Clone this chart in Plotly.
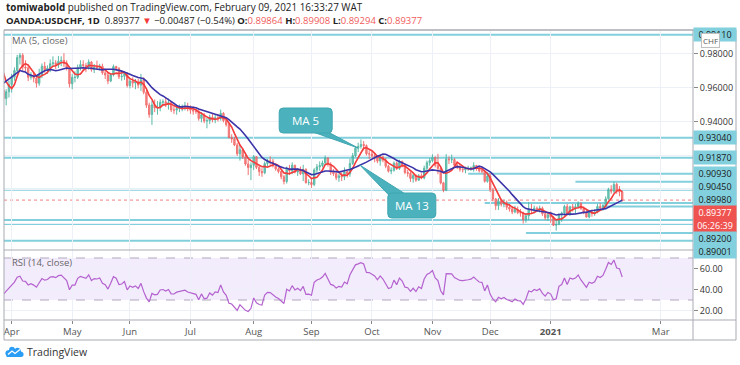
import numpy as np
import pandas as pd
import plotly.graph_objects as go

# ---------------- data (OANDA:USDCHF daily) ----------------
HOLIDAYS = ["2020-12-25", "2021-01-01"]
FIRST_OPEN = 0.9650

CLOSE = [
    # Mar 2020
    0.9610, 0.9555, 0.9597, 0.9495, 0.9383, 0.9330, 0.9392, 0.9410, 0.9470, 0.9520, 0.9465,
    0.9610, 0.9677, 0.9782, 0.9765, 0.9830, 0.9745, 0.9734, 0.9585, 0.9535, 0.9575, 0.9617,
    # Apr
    0.9660, 0.9700, 0.9776, 0.9790, 0.9720, 0.9715, 0.9660, 0.9675, 0.9655, 0.9625, 0.9675,
    0.9725, 0.9705, 0.9713, 0.9740, 0.9745, 0.9735, 0.9755, 0.9760, 0.9740, 0.9715, 0.9622,
    # May
    0.9660, 0.9660, 0.9718, 0.9735, 0.9730, 0.9720, 0.9750, 0.9705, 0.9720, 0.9717, 0.9725,
    0.9686, 0.9674, 0.9638, 0.9675, 0.9723, 0.9712, 0.9663, 0.9666, 0.9682, 0.9612,
    # Jun
    0.9638, 0.9626, 0.9635, 0.9614, 0.9645, 0.9572, 0.9496, 0.9441, 0.9498, 0.9480, 0.9483,
    0.9513, 0.9516, 0.9502, 0.9511, 0.9468, 0.9467, 0.9477, 0.9481, 0.9485, 0.9487, 0.9474,
    # Jul
    0.9467, 0.9462, 0.9458, 0.9418, 0.9440, 0.9403, 0.9405, 0.9425, 0.9410, 0.9422, 0.9418,
    0.9448, 0.9405, 0.9381, 0.9306, 0.9297, 0.9262, 0.9210, 0.9234, 0.9192, 0.9150, 0.9129, 0.9143,
    # Aug
    0.9193, 0.9130, 0.9106, 0.9098, 0.9153, 0.9169, 0.9166, 0.9139, 0.9121, 0.9106, 0.9075,
    0.9047, 0.9125, 0.9109, 0.9143, 0.9103, 0.9114, 0.9092, 0.9118, 0.9040, 0.9041,
    # Sep
    0.9029, 0.9115, 0.9133, 0.9141, 0.9156, 0.9185, 0.9147, 0.9101, 0.9093, 0.9069, 0.9080,
    0.9075, 0.9105, 0.9092, 0.9153, 0.9199, 0.9243, 0.9253, 0.9265, 0.9258, 0.9210, 0.9209,
    # Oct
    0.9197, 0.9190, 0.9167, 0.9191, 0.9173, 0.9137, 0.9108, 0.9113, 0.9155, 0.9124, 0.9165,
    0.9145, 0.9100, 0.9095, 0.9065, 0.9082, 0.9055, 0.9081, 0.9068, 0.9125, 0.9158, 0.9170,
    # Nov
    0.9188, 0.9143, 0.9124, 0.9039, 0.8995, 0.9178, 0.9175, 0.9176, 0.9143, 0.9132, 0.9118,
    0.9116, 0.9122, 0.9123, 0.9127, 0.9141, 0.9125, 0.9110, 0.9108, 0.9048, 0.9080,
    # Dec
    0.8998, 0.8944, 0.8905, 0.8932, 0.8913, 0.8920, 0.8896, 0.8885, 0.8868, 0.8882, 0.8864,
    0.8862, 0.8822, 0.8845, 0.8885, 0.8878, 0.8890, 0.8882, 0.8890, 0.8857, 0.8834, 0.8850,
    # Jan 2021
    0.8838, 0.8790, 0.8794, 0.8852, 0.8862, 0.8900, 0.8857, 0.8899, 0.8892, 0.8898,
    0.8917, 0.8888, 0.8866, 0.8838, 0.8867, 0.8860, 0.8868, 0.8900, 0.8893, 0.8905,
    # Feb
    0.8945, 0.9000, 0.8990, 0.9030, 0.8990, 0.89864, 0.89377,
]
HIGH = [
    0.9650, 0.9640, 0.9618, 0.9607, 0.9500, 0.9390, 0.9443, 0.9443, 0.9516, 0.9567, 0.9535,
    0.9626, 0.9711, 0.9902, 0.9856, 0.9870, 0.9846, 0.9801, 0.9735, 0.9627, 0.9590, 0.9641,
    0.9680, 0.9718, 0.9792, 0.9803, 0.9802, 0.9760, 0.9735, 0.9690, 0.9690, 0.9672, 0.9710,
    0.9741, 0.9750, 0.9730, 0.9765, 0.9783, 0.9761, 0.9785, 0.9784, 0.9802, 0.9760, 0.9725,
    0.9680, 0.9695, 0.9735, 0.9760, 0.9760, 0.9745, 0.9765, 0.9755, 0.9738, 0.9758, 0.9739,
    0.9740, 0.9708, 0.9688, 0.9683, 0.9735, 0.9728, 0.9720, 0.9700, 0.9695, 0.9690,
    0.9650, 0.9660, 0.9650, 0.9652, 0.9680, 0.9660, 0.9585, 0.9510, 0.9520, 0.9530, 0.9520,
    0.9530, 0.9530, 0.9540, 0.9535, 0.9520, 0.9490, 0.9497, 0.9500, 0.9500, 0.9515, 0.9510,
    0.9495, 0.9490, 0.9470, 0.9470, 0.9455, 0.9450, 0.9420, 0.9440, 0.9445, 0.9440, 0.9445,
    0.9470, 0.9455, 0.9420, 0.9390, 0.9325, 0.9310, 0.9275, 0.9262, 0.9245, 0.9205, 0.9175, 0.9160,
    0.9203, 0.9195, 0.9145, 0.9125, 0.9165, 0.9180, 0.9195, 0.9180, 0.9150, 0.9130, 0.9110,
    0.9085, 0.9135, 0.9145, 0.9160, 0.9145, 0.9125, 0.9135, 0.9145, 0.9125, 0.9060,
    0.9065, 0.9125, 0.9150, 0.9165, 0.9170, 0.9200, 0.9190, 0.9160, 0.9120, 0.9105, 0.9095,
    0.9100, 0.9130, 0.9115, 0.9180, 0.9215, 0.9255, 0.9275, 0.9295, 0.9285, 0.9265, 0.9230,
    0.9225, 0.9215, 0.9200, 0.9200, 0.9200, 0.9185, 0.9145, 0.9130, 0.9165, 0.9165, 0.9175,
    0.9170, 0.9150, 0.9115, 0.9105, 0.9095, 0.9090, 0.9090, 0.9095, 0.9140, 0.9170, 0.9185,
    0.9207, 0.9195, 0.9210, 0.9130, 0.9045, 0.9208, 0.9195, 0.9205, 0.9185, 0.9155, 0.9150,
    0.9135, 0.9135, 0.9140, 0.9135, 0.9160, 0.9145, 0.9135, 0.9120, 0.9110, 0.9100,
    0.9095, 0.9010, 0.8950, 0.8950, 0.8945, 0.8940, 0.8935, 0.8915, 0.8900, 0.8905, 0.8900,
    0.8885, 0.8870, 0.8860, 0.8925, 0.8915, 0.8905, 0.8900, 0.8905, 0.8900, 0.8865, 0.8865,
    0.8870, 0.8845, 0.8820, 0.8860, 0.8870, 0.8910, 0.8915, 0.8905, 0.8915, 0.8915,
    0.8930, 0.8925, 0.8900, 0.8880, 0.8880, 0.8880, 0.8885, 0.8915, 0.8920, 0.8915,
    0.8960, 0.9010, 0.9025, 0.9045, 0.9040, 0.9020, 0.89908,
]
LOW = [
    0.9560, 0.9515, 0.9533, 0.9480, 0.9340, 0.9182, 0.9305, 0.9347, 0.9368, 0.9424, 0.9390,
    0.9445, 0.9565, 0.9660, 0.9720, 0.9715, 0.9720, 0.9663, 0.9560, 0.9505, 0.9495, 0.9541,
    0.9570, 0.9640, 0.9690, 0.9735, 0.9700, 0.9697, 0.9638, 0.9646, 0.9630, 0.9600, 0.9610,
    0.9655, 0.9687, 0.9680, 0.9690, 0.9725, 0.9709, 0.9715, 0.9725, 0.9720, 0.9700, 0.9600,
    0.9590, 0.9630, 0.9650, 0.9700, 0.9705, 0.9690, 0.9705, 0.9693, 0.9685, 0.9703, 0.9700,
    0.9675, 0.9650, 0.9620, 0.9631, 0.9665, 0.9700, 0.9650, 0.9640, 0.9645, 0.9600,
    0.9595, 0.9600, 0.9590, 0.9595, 0.9580, 0.9560, 0.9480, 0.9422, 0.9380, 0.9455, 0.9440,
    0.9460, 0.9490, 0.9485, 0.9470, 0.9455, 0.9445, 0.9440, 0.9455, 0.9460, 0.9465, 0.9460,
    0.9445, 0.9440, 0.9445, 0.9405, 0.9395, 0.9390, 0.9360, 0.9385, 0.9395, 0.9390, 0.9400,
    0.9405, 0.9395, 0.9370, 0.9300, 0.9275, 0.9255, 0.9198, 0.9170, 0.9180, 0.9140, 0.9085, 0.9055,
    0.9115, 0.9120, 0.9080, 0.9075, 0.9090, 0.9135, 0.9145, 0.9130, 0.9110, 0.9095, 0.9060,
    0.9030, 0.9035, 0.9085, 0.9090, 0.9095, 0.9080, 0.9085, 0.9050, 0.9035, 0.9025,
    0.9010, 0.9020, 0.9090, 0.9110, 0.9130, 0.9145, 0.9135, 0.9085, 0.9080, 0.9055, 0.9045,
    0.9050, 0.9055, 0.9070, 0.9075, 0.9145, 0.9190, 0.9220, 0.9240, 0.9230, 0.9200, 0.9180,
    0.9180, 0.9160, 0.9155, 0.9140, 0.9160, 0.9125, 0.9100, 0.9090, 0.9105, 0.9115, 0.9115,
    0.9130, 0.9090, 0.9075, 0.9045, 0.9040, 0.9045, 0.9050, 0.9060, 0.9060, 0.9115, 0.9140,
    0.9160, 0.9130, 0.9090, 0.9030, 0.8984, 0.8990, 0.9150, 0.9155, 0.9130, 0.9120, 0.9105,
    0.9100, 0.9095, 0.9110, 0.9110, 0.9105, 0.9110, 0.9100, 0.9095, 0.9040, 0.9040,
    0.8985, 0.8930, 0.8880, 0.8880, 0.8900, 0.8895, 0.8880, 0.8870, 0.8855, 0.8860, 0.8855,
    0.8840, 0.8800, 0.8805, 0.8820, 0.8860, 0.8860, 0.8870, 0.8865, 0.8845, 0.8820, 0.8815,
    0.8805, 0.8785, 0.8758, 0.8790, 0.8810, 0.8845, 0.8850, 0.8845, 0.8870, 0.8855,
    0.8890, 0.8880, 0.8855, 0.8835, 0.8830, 0.8840, 0.8845, 0.8860, 0.8880, 0.8875,
    0.8895, 0.8940, 0.8975, 0.8980, 0.8975, 0.8960, 0.89294,
]

LEVELS = [0.9911, 0.9304, 0.9187, 0.9093, 0.9045, 0.8998, 0.8920, 0.89001, 0.8821, 0.8797, 0.8744, 0.8699]
LEVEL_STARTS = [None, None, None, "2020-11-19", "2021-01-15", None, "2020-11-27", "2021-01-29",
                None, None, "2020-12-18", None]
LEVEL_LABELED = [True, True, True, True, True, True, True, True, False, False, False, False]
LAST_PRICE = 0.89377
COUNTDOWN = "06:26:39"

MONTH_TICKS = ["2020-04-01", "2020-05-01", "2020-06-01", "2020-07-01", "2020-08-03", "2020-09-01",
               "2020-10-01", "2020-11-02", "2020-12-01", "2021-01-04", "2021-03-01"]
MONTH_LABELS = ["Apr", "May", "Jun", "Jul", "Aug", "Sep", "Oct", "Nov", "Dec", "<b>2021</b>", "Mar"]
PRICE_TICKS = [0.88, 0.90, 0.92, 0.94, 0.96, 0.98]
PRICE_TICKTEXT = ["", "", "", "0.94000", "0.96000", "0.98000"]
RSI_TICKS = [20, 40, 60]

MA5_TIP = ("2020-09-24", 0.92441)
MA13_TIP = ("2020-09-24 14:00", 0.91441)

# ---------------- derived series ----------------
dates = [d for d in pd.bdate_range("2020-03-02", "2021-02-09") if d.strftime("%Y-%m-%d") not in HOLIDAYS]
assert len(dates) == len(CLOSE) == len(HIGH) == len(LOW), (len(dates), len(CLOSE), len(HIGH), len(LOW))
close = pd.Series(CLOSE, index=dates)
opens = [FIRST_OPEN] + CLOSE[:-1]          # FX daily bar opens at prior close
highs = [max(h, o, c) for h, o, c in zip(HIGH, opens, CLOSE)]
lows = [min(l, o, c) for l, o, c in zip(LOW, opens, CLOSE)]
ma5 = close.rolling(5).mean()
ma13 = close.rolling(13).mean()
delta = close.diff()
gain = delta.clip(lower=0).ewm(alpha=1 / 14, adjust=False).mean()
loss = (-delta.clip(upper=0)).ewm(alpha=1 / 14, adjust=False).mean()
rsi = 100 - 100 / (1 + gain / loss)

# ---------------- geometry ----------------
W, H = 740, 365
PL, PR, PT, PB = 4, 693, 30, 320
SEP = 250
PRICE_RANGE = [0.864412, 0.993824]
RSI_RANGE = [10.95, 77.62]
X_RANGE = ["2020-03-27 04:48", "2021-03-16 18:00"]
split = (PB - SEP) / (PB - PT)


def px(x):
    return (x - PL) / (PR - PL)


def py(y):
    return (PB - y) / (PB - PT)


def price_px(v):
    return PT + (PRICE_RANGE[1] - v) / (PRICE_RANGE[1] - PRICE_RANGE[0]) * (SEP - PT)


FONT = "Open Sans"
GRID = "#edf1f7"
FRAME = "#a8abb3"
CYAN = "#82d0dd"
RED = "#ef5350"

fig = go.Figure()
fig.add_trace(go.Candlestick(
    x=dates, open=opens, high=highs, low=lows, close=CLOSE,
    increasing=dict(line=dict(color="#3fae9a", width=1), fillcolor="#5dbfae"),
    decreasing=dict(line=dict(color="#f05a5a", width=1), fillcolor="#f47575"),
    opacity=0.85, whiskerwidth=0, xaxis="x", yaxis="y", showlegend=False, hoverinfo="skip"))
fig.add_trace(go.Scatter(x=dates, y=ma5, mode="lines", line=dict(color="#f23b3b", width=1.6),
                         xaxis="x", yaxis="y", showlegend=False, hoverinfo="skip"))
fig.add_trace(go.Scatter(x=dates, y=ma13, mode="lines", line=dict(color="#3b34a8", width=1.6),
                         xaxis="x", yaxis="y", showlegend=False, hoverinfo="skip"))
fig.add_trace(go.Scatter(x=dates, y=rsi, mode="lines", line=dict(color="#b462cf", width=1.2),
                         xaxis="x2", yaxis="y2", showlegend=False, hoverinfo="skip"))

shapes = []
# RSI band and bounds
shapes.append(dict(type="rect", xref="x2 domain", yref="y2", x0=0, x1=1, y0=30, y1=70,
                   fillcolor="rgba(160,100,230,0.12)", line=dict(width=0), layer="below"))
for lvl in (30, 70):
    shapes.append(dict(type="line", xref="x2 domain", yref="y2", x0=0, x1=1, y0=lvl, y1=lvl,
                       line=dict(color="#b3a7bf", width=1, dash="dash"), layer="below"))
# horizontal levels
for v, s in zip(LEVELS, LEVEL_STARTS):
    shapes.append(dict(type="line", xref="x", yref="y", x0=s if s else X_RANGE[0], x1=X_RANGE[1],
                       y0=v, y1=v, line=dict(color=CYAN, width=2), layer="below"))
# last price dotted line
shapes.append(dict(type="line", xref="x domain", yref="y", x0=0, x1=1, y0=LAST_PRICE, y1=LAST_PRICE,
                   line=dict(color="#f08080", width=1, dash="dot"), layer="below"))


# callout boxes (pixel-sized shapes anchored to the MA lines)
def rrect(x0, x1, y0, y1, r=4):
    return (f"M{x0 + r},{y0} L{x1 - r},{y0} Q{x1},{y0} {x1},{y0 + r} L{x1},{y1 - r} Q{x1},{y1} {x1 - r},{y1} "
            f"L{x0 + r},{y1} Q{x0},{y1} {x0},{y1 - r} L{x0},{y0 + r} Q{x0},{y0} {x0 + r},{y0} Z")


TEAL = "#4bb2bd"
for tip, box, tail in [
    (MA5_TIP, (-79, -26, 15, 40), "M0,0 L-48,17 L-32,17 Z"),
    (MA13_TIP, (28, 76, -53, -28), "M0,0 L29,-30 L47,-30 Z"),
]:
    for path in (tail, rrect(*box)):
        shapes.append(dict(type="path", xref="x", yref="y", xsizemode="pixel", ysizemode="pixel",
                           xanchor=tip[0], yanchor=tip[1], path=path, fillcolor=TEAL,
                           line=dict(color="#3fa6b1", width=1), layer="above"))


# frame lines
def hline(y, x0=PL, x1=736, color=FRAME, w=1):
    shapes.append(dict(type="line", xref="paper", yref="paper", x0=px(x0), x1=px(x1), y0=py(y), y1=py(y),
                       line=dict(color=color, width=w), layer="above"))


def vline(x, y0=PT, y1=340, color=FRAME, w=1):
    shapes.append(dict(type="line", xref="paper", yref="paper", x0=px(x), x1=px(x), y0=py(y0), y1=py(y1),
                       line=dict(color=color, width=w), layer="above"))


hline(PT, w=1.5)
hline(SEP)
hline(PB)
hline(340)
vline(PL)
vline(PR)
vline(736)

# TradingView cloud logo
shapes.append(dict(type="path", xref="paper", yref="paper", xsizemode="pixel", ysizemode="pixel",
                   xanchor=px(5), yanchor=py(357),
                   path="M2,0 L16,0 C19.5,0 19.5,5 16,5.5 C16,9 12,10.5 10,8 C9,11 4,11 4,7 C1,7 -0.5,4 1,2 C1.3,0.8 1.6,0 2,0 Z",
                   fillcolor="#2a9df4", line=dict(width=0), layer="above"))
shapes.append(dict(type="path", xref="paper", yref="paper", xsizemode="pixel", ysizemode="pixel",
                   xanchor=px(5), yanchor=py(357), path="M3,2.5 L7,6 L10,3.5 L15,7.5",
                   line=dict(color="white", width=1.3), layer="above"))

ann = []
# header
ann.append(dict(xref="paper", yref="paper", x=px(4), y=py(7.5), xanchor="left", yanchor="middle", showarrow=False,
                text="<b>tomiwabold</b> published on TradingView.com, February 09, 2021 16:33:27 WAT",
                font=dict(family=FONT, size=9.9, color="#222")))
red_t = "<span style='color:#f05b5b'>{}</span>"
ann.append(dict(xref="paper", yref="paper", x=px(4), y=py(20.5), xanchor="left", yanchor="middle", showarrow=False,
                text=("<b>OANDA:USDCHF, 1D</b>  0.89377 <span style='color:#f23b3b'>▼</span> −0.00487 (−0.54%) "
                      "<b>O:</b>" + red_t.format("0.89864") + " <b>H:</b>" + red_t.format("0.89908") +
                      " <b>L:</b>" + red_t.format("0.89294") + " <b>C:</b>" + red_t.format("0.89377")),
                font=dict(family=FONT, size=9.5, color="#222")))
# pane legends
ann.append(dict(xref="paper", yref="paper", x=px(10), y=py(41), xanchor="left", yanchor="middle", showarrow=False,
                text="MA (5, close)", font=dict(family=FONT, size=9.5, color="#666")))
ann.append(dict(xref="paper", yref="paper", x=px(10), y=py(262), xanchor="left", yanchor="middle", showarrow=False,
                text="RSI (14, close)", font=dict(family=FONT, size=9.5, color="#666")))
# callout texts
for tip, txt, dx, dy in [(MA5_TIP, "MA 5", -52.5, 27.5), (MA13_TIP, "MA 13", 52, -40.5)]:
    ann.append(dict(xref="x", yref="y", x=tip[0], y=tip[1], xshift=dx, yshift=dy, showarrow=False,
                    text=txt, font=dict(family=FONT, size=11.5, color="white")))

# right-axis level labels with TradingView-style stacking
labels = []
for v, lab in zip(LEVELS, LEVEL_LABELED):
    if lab:
        labels.append((v, f"{v:.5f}", CYAN, "#1a1a1a"))
labels.append((LAST_PRICE, f"{LAST_PRICE:.5f}", RED, "white"))
labels.sort(key=lambda t: -t[0])
prev = -1e9
for v, txt, bg, fg in labels:
    true_y = price_px(v)
    disp = max(true_y, prev + 13)
    ann.append(dict(xref="paper", yref="y", x=px(PR), y=v, yshift=-(disp - true_y), xanchor="left",
                    yanchor="middle", showarrow=False, text=txt, bgcolor=bg, width=40, height=11,
                    borderpad=1, font=dict(family=FONT, size=9, color=fg)))
    prev = disp
    if v == LAST_PRICE:
        disp = prev + 13
        ann.append(dict(xref="paper", yref="y", x=px(PR), y=v, yshift=-(disp - true_y), xanchor="left",
                        yanchor="middle", showarrow=False, text=COUNTDOWN, bgcolor=RED, width=40, height=11,
                        borderpad=1, font=dict(family=FONT, size=9, color="white")))
        prev = disp
# CHF badge
ann.append(dict(xref="paper", yref="paper", x=px(701), y=py(41), xanchor="left", yanchor="middle",
                showarrow=False, text="CHF", bgcolor="white", bordercolor="#c0c0c0", borderwidth=1, borderpad=1,
                font=dict(family=FONT, size=8, color="#555")))
# footer
ann.append(dict(xref="paper", yref="paper", x=px(25), y=py(352), xanchor="left", yanchor="middle",
                showarrow=False, text="TradingView", font=dict(family=FONT, size=10.5, color="#333")))

common_x = dict(type="date", range=X_RANGE,
                rangebreaks=[dict(bounds=["sat", "mon"]), dict(values=HOLIDAYS)],
                tickvals=MONTH_TICKS, ticktext=MONTH_LABELS, showgrid=True, gridcolor=GRID, gridwidth=1,
                zeroline=False, showline=False, rangeslider=dict(visible=False), fixedrange=True)

fig.update_layout(
    width=W, height=H, margin=dict(l=PL, r=W - PR, t=PT, b=H - PB),
    paper_bgcolor="white", plot_bgcolor="white",
    font=dict(family=FONT, size=9, color="#444"),
    xaxis=dict(**common_x, domain=[0, 1], anchor="y", showticklabels=False, ticks=""),
    xaxis2=dict(**common_x, domain=[0, 1], anchor="y2", matches="x", showticklabels=True, ticks="outside",
                ticklen=3, tickcolor="#888", tickfont=dict(family=FONT, size=9.5, color="#555")),
    yaxis=dict(domain=[split, 1], range=PRICE_RANGE, side="right", tickvals=PRICE_TICKS, ticktext=PRICE_TICKTEXT,
               showgrid=True, gridcolor=GRID, zeroline=False, ticks="outside", ticklen=4, tickcolor="#888",
               tickfont=dict(family=FONT, size=9, color="#333"), fixedrange=True),
    yaxis2=dict(domain=[0, split], range=RSI_RANGE, side="right", tickvals=RSI_TICKS,
                ticktext=[f"{t:.2f}" for t in RSI_TICKS], showgrid=True, gridcolor=GRID, zeroline=False,
                ticks="outside", ticklen=4, tickcolor="#888", tickfont=dict(family=FONT, size=9, color="#333"),
                fixedrange=True),
    shapes=shapes, annotations=ann, showlegend=False,
)

fig.write_html("out.html", config={"displayModeBar": False},
               post_script="document.body.style.margin='0';document.body.style.padding='0';")
